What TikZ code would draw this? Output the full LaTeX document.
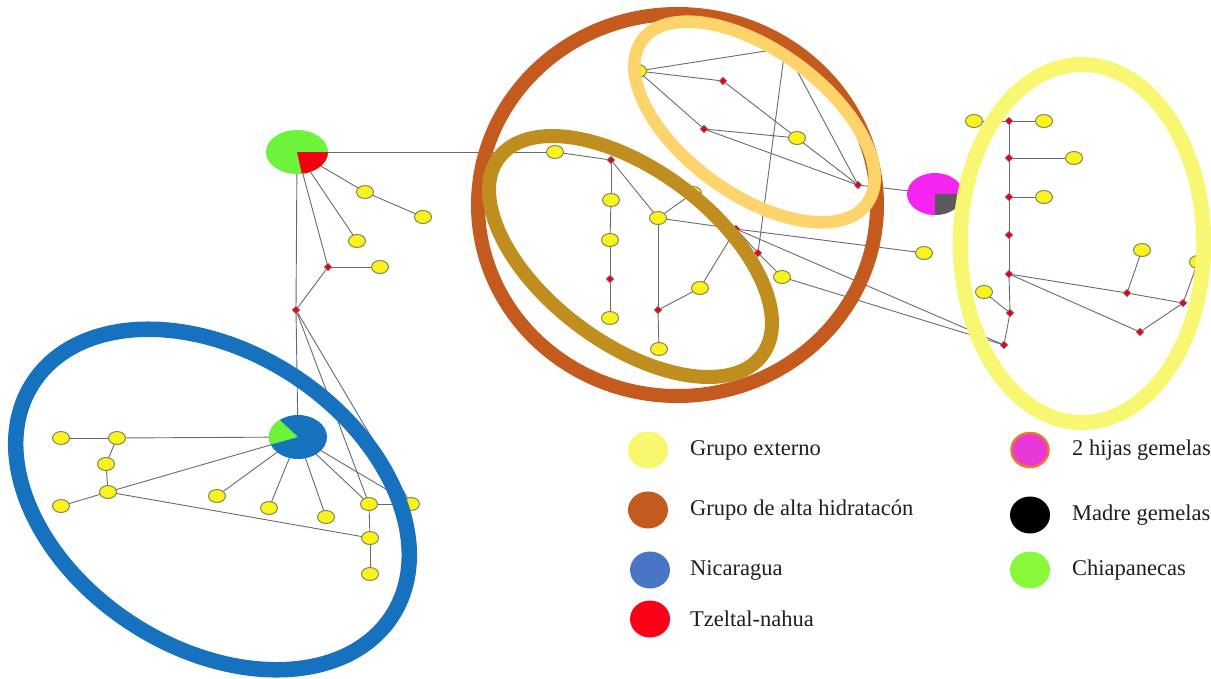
\documentclass[tikz,border=0pt]{standalone}
\usepackage{fontspec}
\setmainfont{Liberation Serif}
\usetikzlibrary{shapes.geometric,backgrounds}
\definecolor{ynf}{HTML}{F9F21C}
\definecolor{ynb}{HTML}{85855A}
\definecolor{dnf}{HTML}{E80018}
\definecolor{dnb}{HTML}{8C8C8C}
\definecolor{edgec}{HTML}{6A6A6A}
\definecolor{pgreen}{HTML}{6CF43C}
\definecolor{pred}{HTML}{F20010}
\definecolor{pblue}{HTML}{1672BE}
\definecolor{pmag}{HTML}{F624F2}
\definecolor{pgrey}{HTML}{5A5A5E}
\definecolor{rbrown}{HTML}{C55A1E}
\definecolor{rgold}{HTML}{BF8E1E}
\definecolor{rorange}{HTML}{FDD46C}
\definecolor{ryellow}{HTML}{F7F772}
\definecolor{rblue}{HTML}{1672BE}
\definecolor{lyellow}{HTML}{F8F870}
\definecolor{lbrown}{HTML}{C45A1E}
\definecolor{lblue}{HTML}{4A74C4}
\definecolor{lred}{HTML}{FC0018}
\definecolor{lmag}{HTML}{E838D8}
\definecolor{lmagb}{HTML}{E87830}
\definecolor{lgreen}{HTML}{88F83A}
\begin{document}
\begin{tikzpicture}[x=1pt,y=1pt,
  yn/.style={ellipse, draw=ynb, fill=ynf, line width=1pt, minimum width=17pt, minimum height=13pt, inner sep=0pt},
  dn/.style={diamond, draw=dnb, fill=dnf, line width=0.6pt, minimum width=8pt, minimum height=8pt, inner sep=0pt},
  pie/.style={ellipse, inner sep=0pt},
  edge/.style={draw=edgec, line width=0.9pt},
  ring/.style={line width=14pt},
  sw/.style={ellipse, minimum width=40pt, minimum height=37pt, inner sep=0pt},
  lab/.style={anchor=west, inner sep=0pt, font=\fontsize{22.5}{26}\selectfont, text=black!88}
]
\useasboundingbox (0,0) rectangle (1211,-678);
% ---------- pies ----------
\node[pie, fill=pgreen, minimum width=62pt, minimum height=44pt] (p1) at (297,-152) {};
\fill[pred] (p1.center) -- ++(31,0) arc[start angle=0, end angle=-81, x radius=31pt, y radius=22pt] -- cycle;
\node[pie, fill=pblue, minimum width=58pt, minimum height=44pt] (p2) at (298,-437) {};
\fill[pgreen] (p2.center) -- ++(-18.3,17.1) arc[start angle=129, end angle=200, x radius=29pt, y radius=22pt] -- cycle;
\node[pie, fill=pmag, minimum width=56pt, minimum height=42pt] (p3) at (935,-194) {};
\fill[pgrey] (p3.center) -- ++(0,-21) arc[start angle=-90, end angle=0, x radius=28pt, y radius=21pt] -- cycle;
% ---------- top-left ----------
\node[yn] (y1) at (365,-192) {};
\node[yn] (y2) at (423,-217) {};
\node[yn] (y3) at (357,-241) {};
\node[yn] (y4) at (380,-267) {};
\node[dn] (d1) at (328,-267) {};
\node[dn] (d2) at (296,-310) {};
% ---------- blue group ----------
\node[yn] (b1) at (61,-438) {};
\node[yn] (b2) at (117,-438) {};
\node[yn] (b3) at (106,-464) {};
\node[yn] (b4) at (108,-492) {};
\node[yn] (b5) at (61,-506) {};
\node[yn] (b6) at (217,-496) {};
\node[yn] (b7) at (269,-508) {};
\node[yn] (b8) at (326,-517) {};
\node[yn] (b9) at (369,-504) {};
\node[yn] (b10) at (411,-504) {};
\node[yn] (b11) at (370,-538) {};
\node[yn] (b12) at (370,-574) {};
% ---------- centre ----------
\node[yn] (c1) at (638,-71) {};
\node[dn] (c2) at (723,-81) {};
\node[dn] (c3) at (704,-129) {};
\node[yn] (c4) at (797,-138) {};
\node[dn] (c5) at (858,-185) {};
\node[yn] (c6) at (555,-152) {};
\node[dn] (c7) at (611,-160) {};
\node[yn] (c8) at (611,-200) {};
\node[yn] (c9) at (610,-240) {};
\node[dn] (c10) at (610,-279) {};
\node[yn] (c11) at (610,-318) {};
\node[yn] (c12) at (658,-218) {};
\node[yn] (c13) at (693,-193) {};
\node[dn] (c14) at (658,-310) {};
\node[yn] (c15) at (659,-349) {};
\node[yn] (c16) at (700,-288) {};
\node[dn] (c17) at (736,-229) {};
\node[dn] (c18) at (758,-253) {};
\node[yn] (c19) at (782,-277) {};
\node[yn] (c20) at (924,-253) {};
\coordinate (h1) at (785,-48);
% ---------- right group ----------
\node[yn] (r1) at (974,-121) {};
\node[dn] (r2) at (1009,-121) {};
\node[yn] (r3) at (1044,-121) {};
\node[dn] (r4) at (1009,-158) {};
\node[yn] (r5) at (1074,-158) {};
\node[dn] (r6) at (1009,-197) {};
\node[yn] (r7) at (1044,-197) {};
\node[dn] (r8) at (1009,-235) {};
\node[dn] (r9) at (1009,-274) {};
\node[yn] (r10) at (984,-292) {};
\node[dn] (r11) at (1010,-313) {};
\node[dn] (r12) at (1004,-345) {};
\node[dn] (r13) at (1127,-293) {};
\node[yn] (r14) at (1142,-250) {};
\node[dn] (r15) at (1183,-303) {};
\node[yn] (r16) at (1198,-262) {};
\node[dn] (r17) at (1140,-332) {};
% ---------- edges ----------
\begin{pgfonlayer}{background}
\foreach \a/\b in {p1/y1,y1/y2,p1/y3,p1/d1,d1/y4,d1/d2,p1/d2,p1/c6,
  d2/p2,d2/b9,d2/b10,
  b1/b2,b2/p2,b2/b3,b3/b4,b4/b5,b4/p2,b4/b11,p2/b6,p2/b7,p2/b8,p2/b9,p2/b10,b9/b10,b9/b11,b11/b12,
  c6/c7,c7/c8,c8/c9,c9/c10,c10/c11,c7/c12,c12/c13,c12/c14,c14/c15,c14/c16,c16/c17,c12/c17,c17/c18,c18/c19,
  c17/c20,c17/r12,c19/r12,c18/h1,c1/h1,c5/h1,
  c1/c2,c1/c3,c2/c4,c3/c4,c3/c5,c4/c5,c5/p3,
  r1/r2,r2/r3,r2/r4,r4/r5,r4/r6,r6/r7,r6/r8,r8/r9,r9/r11,r11/r12,r11/r10,
  r9/r13,r13/r14,r13/r15,r15/r16,r9/r17,r17/r15}
  \draw[edge] (\a.center) -- (\b.center);
\end{pgfonlayer}
% ---------- rings ----------
\draw[ring, line width=15.5pt, rblue, rotate around={-33:(212.5,-499.5)}] (212.5,-499.5) ellipse[x radius=214pt, y radius=148pt];
\draw[ring, rbrown] (677.5,-205) ellipse[x radius=199.5pt, y radius=191pt];
\draw[ring, rgold, rotate around={-36.85:(630.5,-256.5)}] (630.5,-256.5) ellipse[x radius=164.5pt, y radius=86.4pt];
\draw[ring, line width=12.5pt, rorange, rotate around={-36:(754.5,-122)}] (754.5,-122) ellipse[x radius=139pt, y radius=72pt];
\draw[ring, line width=15pt, ryellow] (1082,-243.5) ellipse[x radius=121.75pt, y radius=179pt];
% ---------- legend ----------
\node[sw, fill=lyellow] (s1) at (648,-450) {};
\node[lab] (t1) at (690,-450) {Grupo externo};
\node[sw, fill=lbrown] (s2) at (648,-510) {};
\node[lab] (t2) at (690,-510) {Grupo de alta hidratacón};
\node[sw, fill=lblue] (s3) at (650,-570) {};
\node[lab] (t3) at (690,-570) {Nicaragua};
\node[sw, fill=lred] (s4) at (650,-619) {};
\node[lab] (t4) at (690,-619) {Tzeltal-nahua};
\node[sw, fill=lmag, draw=lmagb, line width=2.5pt, minimum width=37pt, minimum height=34pt] (s5) at (1030,-450) {};
\node[lab] (t5) at (1072,-450) {2 hijas gemelas};
\node[sw, fill=black] (s6) at (1030,-515) {};
\node[lab] (t6) at (1072,-515) {Madre gemelas};
\node[sw, fill=lgreen] (s7) at (1030,-570) {};
\node[lab] (t7) at (1072,-570) {Chiapanecas};
\end{tikzpicture}
\end{document}
